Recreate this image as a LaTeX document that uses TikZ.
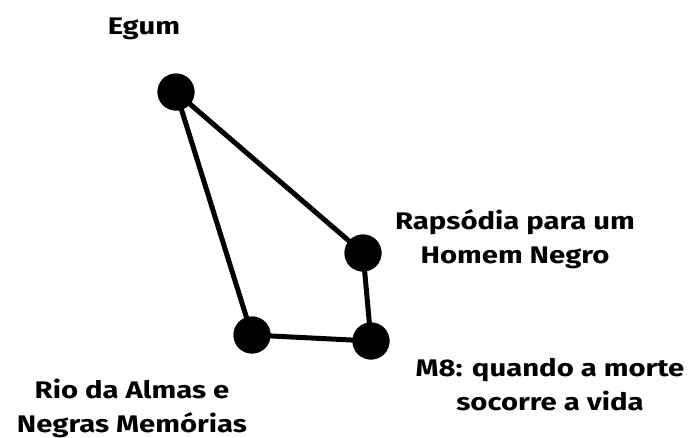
\documentclass[tikz,border=0pt]{standalone}
\usepackage{fontspec}
\setmainfont[FakeStretch=1.22]{Fira Sans}
\begin{document}
\begin{tikzpicture}[x=1pt,y=-1pt,
  dot/.style={circle,fill=black,inner sep=0pt,minimum size=37pt},
  edge/.style={line width=5pt},
  lbl/.style={font=\bfseries\fontsize{24}{34}\selectfont,align=center,inner sep=0pt}]
\useasboundingbox (0,0) rectangle (691,437);
% vertices
\node[dot] (egum) at (176,92) {};
\node[dot] (rap) at (363,253) {};
\node[dot] (m8) at (371,341) {};
\node[dot] (rio) at (252,335) {};
% edges, with the vertices drawn again on top
\draw[edge] (egum.center) -- (rap.center) -- (m8.center) -- (rio.center) -- cycle;
\node[dot] at (egum) {};
\node[dot] at (rap) {};
\node[dot] at (m8) {};
\node[dot] at (rio) {};
% labels (base anchor = baseline of the last line)
\node[lbl,anchor=base] (tegum) at (144,34) {Egum};
\node[lbl,anchor=base] (trap) at (515,263) {Rapsódia para um\\Homem Negro};
\node[lbl,anchor=base] (tm8) at (550,410) {M8: quando a morte\\socorre a vida};
\node[lbl,anchor=base] (trio) at (132,432) {Rio da Almas e\\Negras Memórias};
\end{tikzpicture}
\end{document}
